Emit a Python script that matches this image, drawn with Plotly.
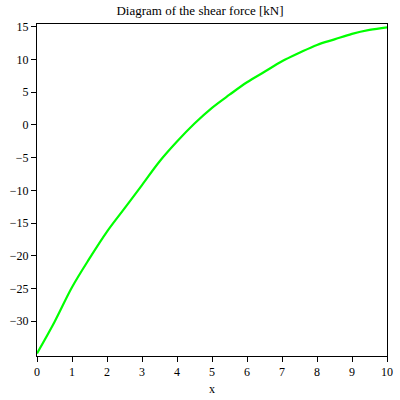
import plotly.graph_objects as go

x_vals = [0, 0.5, 1, 1.5, 2, 2.5, 3, 3.5, 4, 4.5, 5, 5.5, 6, 6.5, 7, 7.5, 8, 8.5, 9, 9.5, 10]
shear = [-34.9, -30.1, -24.8, -20.4, -16.3, -12.75, -9.2, -5.6, -2.55, 0.2, 2.6,
         4.6, 6.5, 8.1, 9.7, 11.0, 12.2, 13.05, 13.9, 14.5, 14.9]
x_ticks = list(range(0, 11))
y_ticks = [-30, -25, -20, -15, -10, -5, 0, 5, 10, 15]
title_text = "Diagram of the shear force [kN]"
x_label = "x"

font_family = "Liberation Serif, Times New Roman, serif"

fig = go.Figure()
fig.add_trace(go.Scatter(
    x=x_vals, y=shear, mode="lines",
    line=dict(color="#00ff00", width=2.2, shape="spline", smoothing=1.0),
    showlegend=False, hoverinfo="skip",
))

axis_common = dict(
    showgrid=False, zeroline=False, showline=True, linecolor="black", linewidth=1,
    mirror=True, ticks="outside", ticklen=5, tickcolor="black", tickwidth=1,
    tickfont=dict(family=font_family, size=12, color="black"),
    automargin=False,
)

fig.update_layout(
    width=400, height=400,
    margin=dict(l=37, r=13, t=24, b=44),
    paper_bgcolor="white", plot_bgcolor="white",
    title=dict(text=title_text, x=0.5, xanchor="center", y=0.985, yanchor="top",
               font=dict(family=font_family, size=13, color="black"),
               automargin=False),
    xaxis=dict(range=[0, 10], tickvals=x_ticks,
               title=dict(text=x_label, font=dict(family=font_family, size=12, color="black"), standoff=6),
               **axis_common),
    yaxis=dict(range=[-35.3, 15.4], tickvals=y_ticks, **axis_common),
)

fig.write_html("out.html", config={"displayModeBar": False},
               post_script="document.body.style.margin='0px';")
